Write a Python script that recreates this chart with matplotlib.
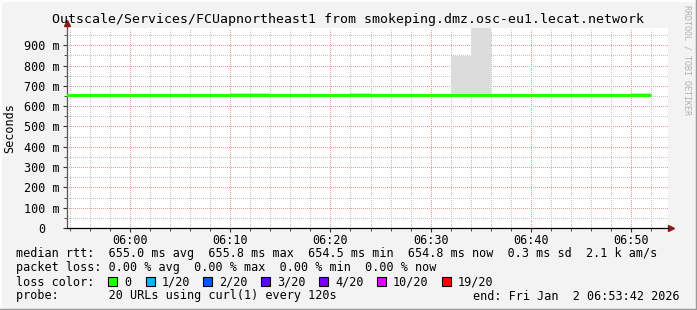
import numpy as np
import matplotlib
matplotlib.use("Agg")
import matplotlib.pyplot as plt
import matplotlib.dates as mdates
from matplotlib.patches import Rectangle
from matplotlib.lines import Line2D
from datetime import datetime, timedelta

# ---------------- data ----------------
bin_start = datetime(2026, 1, 2, 5, 52)
bin_minutes = 2
# median rtt per 2-minute bin (ms), 30 bins 05:52 .. 06:52
median_ms = [654.8, 654.9, 655.0, 654.8, 654.9,
             655.6, 655.7,
             654.9, 655.0, 654.8, 655.0, 654.9,
             655.6, 655.8, 655.5,
             654.9, 655.0, 654.8, 654.9,
             655.6,
             654.7, 654.9, 655.0, 654.8, 654.9, 654.6, 654.5, 654.9, 655.0, 654.8]
# smoke (min / max of the 20 pings) per bin (ms)
smoke_lo_ms = [654.0, 654.1, 654.2, 654.0, 654.1,
               654.8, 654.9,
               654.1, 654.2, 654.0, 654.2, 654.1,
               654.8, 655.0, 654.7,
               654.1, 654.2, 654.0, 654.1,
               654.8,
               653.9, 654.1, 654.2, 654.0, 654.1, 653.8, 653.7, 654.1, 654.2, 654.0]
smoke_hi_ms = [656.0, 656.0, 656.2, 656.0, 656.1,
               656.5, 656.6,
               656.0, 656.2, 663.0, 663.0, 656.1,
               656.5, 656.7, 656.4,
               663.0, 656.2, 656.0, 656.1,
               656.5,
               847.0, 1100.0, 656.2, 656.0, 656.1, 655.8, 655.7, 656.1, 656.2, 663.0]

y_ticks_ms = [0, 100, 200, 300, 400, 500, 600, 700, 800, 900]
y_tick_labels = ["0  ", "100 m", "200 m", "300 m", "400 m", "500 m",
                 "600 m", "700 m", "800 m", "900 m"]
x_start = datetime(2026, 1, 2, 5, 53, 42)
x_end = datetime(2026, 1, 2, 6, 53, 42)

title = "Outscale/Services/FCUapnortheast1 from smokeping.dmz.osc-eu1.lecat.network"
line_median = "median rtt:  655.0 ms avg  655.8 ms max  654.5 ms min  654.8 ms now  0.3 ms sd  2.1 k am/s"
line_loss = "packet loss: 0.00 % avg  0.00 % max  0.00 % min  0.00 % now"
loss_labels = ["0", "1/20", "2/20", "3/20", "4/20", "10/20", "19/20"]
loss_colors = ["#26ff00", "#00b8ff", "#0059ff", "#5e00ff", "#7e00ff", "#dd00ff", "#ff0000"]
probe_text = "probe:       20 URLs using curl(1) every 120s"
end_text = "end: Fri Jan  2 06:53:42 2026"

# ---------------- figure ----------------
W, H = 697, 310
fig = plt.figure(figsize=(W / 100, H / 100), dpi=100)
fig.patch.set_facecolor("#f3f3f3")
mono = "DejaVu Sans Mono"

def fx(px):
    return px / W

def fy(py):
    return 1 - py / H

ax_l, ax_r, ax_b, ax_t = 67, 668, 228, 28
ax = fig.add_axes([fx(ax_l), fy(ax_b), (ax_r - ax_l) / W, (ax_b - ax_t) / H])
ax.set_facecolor("white")

n = len(median_ms)
edges = mdates.date2num([bin_start + timedelta(minutes=bin_minutes * i) for i in range(n + 1)])
med = np.array(median_ms) / 1000.0
lo = np.array(smoke_lo_ms) / 1000.0
hi = np.array(smoke_hi_ms) / 1000.0

ax.stairs(hi, edges, baseline=lo, fill=True, color="#dcdcdc", lw=0, zorder=2)
ax.stairs(med, edges, baseline=None, color=loss_colors[0], lw=2.2, zorder=3)

ax.set_xlim(mdates.date2num(x_start), mdates.date2num(x_end))
ax.set_ylim(0, 0.985)

ax.xaxis.set_major_locator(mdates.MinuteLocator(byminute=range(0, 60, 10)))
ax.xaxis.set_minor_locator(mdates.MinuteLocator(byminute=range(0, 60, 2)))
ax.xaxis.set_major_formatter(mdates.DateFormatter("%H:%M"))
ax.set_yticks([v / 1000.0 for v in y_ticks_ms])
ax.set_yticklabels(y_tick_labels)
ax.set_yticks(np.arange(0.05, 0.98, 0.1), minor=True)

dot = (0, (1.0, 2.0))
ax.grid(which="minor", color="#c4c4c4", lw=0.72, linestyle=dot, zorder=1, antialiased=False)
ax.grid(which="major", color="#e69a9a", lw=0.72, linestyle=dot, zorder=1, antialiased=False)
ax.set_axisbelow(True)

for lab in ax.get_xticklabels() + ax.get_yticklabels():
    lab.set_fontfamily(mono)
    lab.set_fontsize(8.5)
ax.tick_params(which="major", length=3, width=0.8, color="#333333", pad=2)
ax.tick_params(which="minor", length=2, width=0.6, color="#333333")
ax.tick_params(axis="x", which="major", pad=1)

for s in ("top", "right"):
    ax.spines[s].set_visible(False)
ax.spines["left"].set_color("#555555")
ax.spines["bottom"].set_color("#000000")
ax.spines["left"].set_linewidth(0.9)
ax.spines["bottom"].set_linewidth(0.9)

# axis arrows
ax.plot([0, 0], [1, 1 + 5 / 200], transform=ax.transAxes, color="#555555", lw=0.9, clip_on=False)
ax.plot([0], [1 + 5 / 200], marker="^", ms=4.5, color="#8b1a1a", transform=ax.transAxes,
        clip_on=False, mec="#8b1a1a")
ax.plot([1, 1 + 3 / 601], [0, 0], transform=ax.transAxes, color="#000000", lw=0.9, clip_on=False)
ax.plot([1 + 3 / 601], [0], marker=">", ms=4.5, color="#8b1a1a", transform=ax.transAxes,
        clip_on=False, mec="#8b1a1a")

# texts
fig.text(fx(348), fy(19), title, family=mono, fontsize=9.5, ha="center", va="center")
fig.text(fx(10), fy(128), "Seconds", family=mono, fontsize=8.5, rotation=90,
         ha="center", va="center")
fig.text(fx(687), fy(60), "RRDTOOL / TOBI OETIKER", family=mono, fontsize=6,
         rotation=-90, ha="center", va="center", color="#b0b0b0")

fs = 8.5
fig.text(fx(16), fy(254), line_median, family=mono, fontsize=fs, va="center")
fig.text(fx(16), fy(268), line_loss, family=mono, fontsize=fs, va="center")
fig.text(fx(16), fy(282), "loss color:", family=mono, fontsize=fs, va="center")
swatch_x = [108, 146, 203, 261, 319, 377, 442]
for sx, lab, col in zip(swatch_x, loss_labels, loss_colors):
    fig.add_artist(Rectangle((fx(sx), fy(286)), 9 / W, 9 / H, transform=fig.transFigure,
                             facecolor=col, edgecolor="black", lw=0.8))
    fig.text(fx(sx + 16), fy(282), lab, family=mono, fontsize=fs, va="center")
fig.text(fx(16), fy(296), probe_text, family=mono, fontsize=fs, va="center")
fig.text(fx(680), fy(296), end_text, family=mono, fontsize=fs, va="center", ha="right")

# frame
fig.add_artist(Line2D([0, 0, 1], [0, 1, 1], transform=fig.transFigure, color="#fdfdfd", lw=2.5))
fig.add_artist(Line2D([0, 1, 1], [0, 0, 1], transform=fig.transFigure, color="#9a9a9a", lw=2.5))

fig.savefig("out.png", dpi=100, facecolor=fig.get_facecolor())
